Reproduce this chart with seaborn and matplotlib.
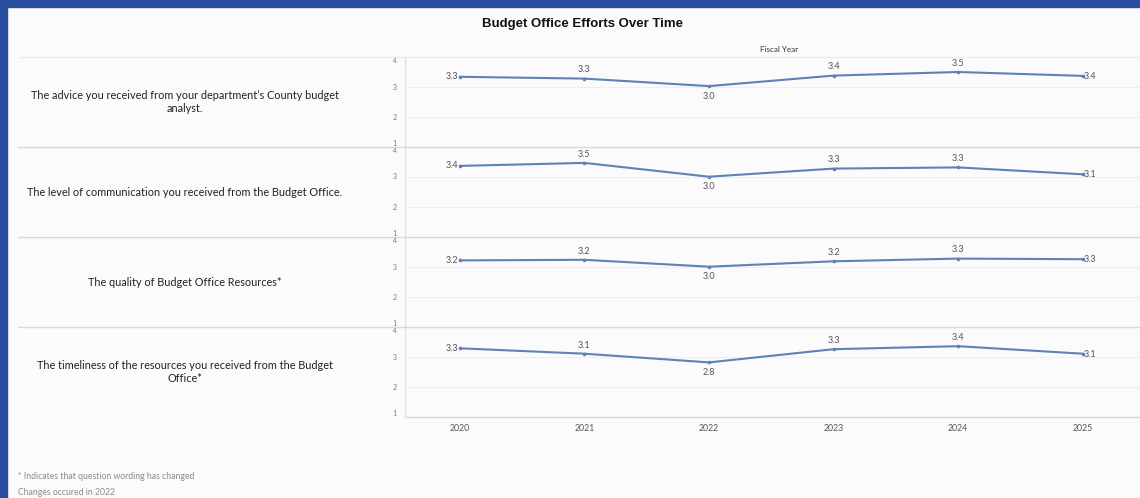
import matplotlib
matplotlib.use("Agg")
import matplotlib.pyplot as plt
import seaborn as sns
import pandas as pd
from matplotlib.lines import Line2D
from matplotlib.patches import Rectangle

# ---------------- data ----------------
years = [2020, 2021, 2022, 2023, 2024, 2025]
questions = [
    "The advice you received from your department\u2019s County budget\nanalyst.",
    "The level of communication you received from the Budget Office.",
    "The quality of Budget Office Resources*",
    "The timeliness of the resources you received from the Budget\nOffice*",
]
advice = [3.34, 3.28, 3.03, 3.38, 3.50, 3.37]
communication = [3.37, 3.47, 3.01, 3.28, 3.32, 3.09]
quality = [3.22, 3.24, 3.01, 3.19, 3.28, 3.26]
timeliness = [3.29, 3.11, 2.82, 3.26, 3.36, 3.11]
series = [advice, communication, quality, timeliness]
y_ticks = [1, 2, 3, 4]
title = "Budget Office Efforts Over Time"
x_title = "Fiscal Year"
footnotes = ["* Indicates that question wording has changed", "Changes occured in 2022"]

# ---------------- style ----------------
sns.set_theme(style="white")
plt.rcParams["font.family"] = ["Lato", "DejaVu Sans"]

W, H = 1140, 498
BG = "#fbfbfb"
BLUE = "#2a4f9f"
LINE = "#5f82b5"
SEP = "#d9d9d9"
GRID = "#efefef"


def fx(px):
    return px / W


def fy(py):
    return 1 - py / H


fig = plt.figure(figsize=(W / 100, H / 100), dpi=100, facecolor=BG)

# blue frame (left and top)
fig.add_artist(Rectangle((0, 0), fx(7), 1, transform=fig.transFigure, color=BLUE, zorder=10))
fig.add_artist(Rectangle((0, fy(7)), 1, 7 / H, transform=fig.transFigure, color=BLUE, zorder=10))

# title
fig.text(fx(583), fy(24), title, ha="center", va="center", fontsize=9.5,
         fontweight="bold", family=["Liberation Sans", "DejaVu Sans"], color="#111111")
fig.text(fx(779), fy(49), x_title, ha="center", va="center", fontsize=5.8, color="#333333")

ROW_TOP = 57
ROW_H = 90
AX_L = 405
for i, (q, vals) in enumerate(zip(questions, series)):
    top = ROW_TOP + ROW_H * i
    ax = fig.add_axes([fx(AX_L), fy(top + ROW_H), fx(W - AX_L), ROW_H / H])
    ax.set_facecolor(BG)
    df = pd.DataFrame({"year": years, "value": vals})
    sns.lineplot(data=df, x="year", y="value", ax=ax, color=LINE, linewidth=1.5,
                 marker="o", markersize=2.6, markeredgewidth=0)
    ax.set_xlim(2019.56, 2025.46)
    ax.set_ylim(1, 4)
    ax.set_yticks(y_ticks)
    ax.set_yticklabels([str(t) for t in y_ticks])
    for lab, t in zip(ax.get_yticklabels(), y_ticks):
        if t == 4:
            lab.set_va("top")
        elif t == 1:
            lab.set_va("bottom")
        else:
            lab.set_va("center")
    ax.tick_params(axis="y", length=0, pad=6, labelsize=5, labelcolor="#777777")
    ax.set_xticks(years)
    if i == len(series) - 1:
        ax.set_xticklabels([str(y) for y in years])
        ax.tick_params(axis="x", length=0, pad=5, labelsize=6.3, labelcolor="#555555")
    else:
        ax.set_xticklabels([])
        ax.tick_params(axis="x", length=0)
    ax.set_xlabel("")
    ax.set_ylabel("")
    ax.yaxis.grid(True, color=GRID, linewidth=0.8)
    ax.xaxis.grid(False)
    for s in ["top", "right", "bottom"]:
        ax.spines[s].set_visible(False)
    ax.spines["left"].set_color("#e2e2e2")
    ax.spines["left"].set_linewidth(0.9)

    # value labels
    vmin = min(vals)
    for j, (x, v) in enumerate(zip(years, vals)):
        txt = f"{v:.1f}"
        kw = dict(textcoords="offset points", fontsize=6.5, color="#555555")
        if j == 0:
            ax.annotate(txt, (x, v), xytext=(-1, 0), ha="right", va="center", **kw)
        elif j == len(vals) - 1:
            ax.annotate(txt, (x, v), xytext=(1, -0.5), ha="left", va="center", **kw)
        elif v == vmin:
            ax.annotate(txt, (x, v), xytext=(0, -4), ha="center", va="top", **kw)
        else:
            ax.annotate(txt, (x, v), xytext=(0, 3), ha="center", va="bottom", **kw)

    # row label
    fig.text(fx(185), fy(top + ROW_H / 2), q, ha="center", va="center",
             fontsize=7.8, color="#222222", linespacing=1.3, multialignment="center")

    # row separators
    col = "#ececec" if i == 0 else SEP
    fig.add_artist(Line2D([fx(18), 1], [fy(top), fy(top)], transform=fig.transFigure,
                          color=col, linewidth=1.0))

# bottom line of last row
bottom = ROW_TOP + ROW_H * len(series)
fig.add_artist(Line2D([fx(AX_L), 1], [fy(bottom), fy(bottom)], transform=fig.transFigure,
                      color=SEP, linewidth=1.0))

# footnotes
fig.text(fx(18), fy(476), footnotes[0], ha="left", va="center", fontsize=6.2, color="#8a8a8a")
fig.text(fx(18), fy(492), footnotes[1], ha="left", va="center", fontsize=6.2, color="#8a8a8a")

fig.savefig("out.png", dpi=100, facecolor=BG)
